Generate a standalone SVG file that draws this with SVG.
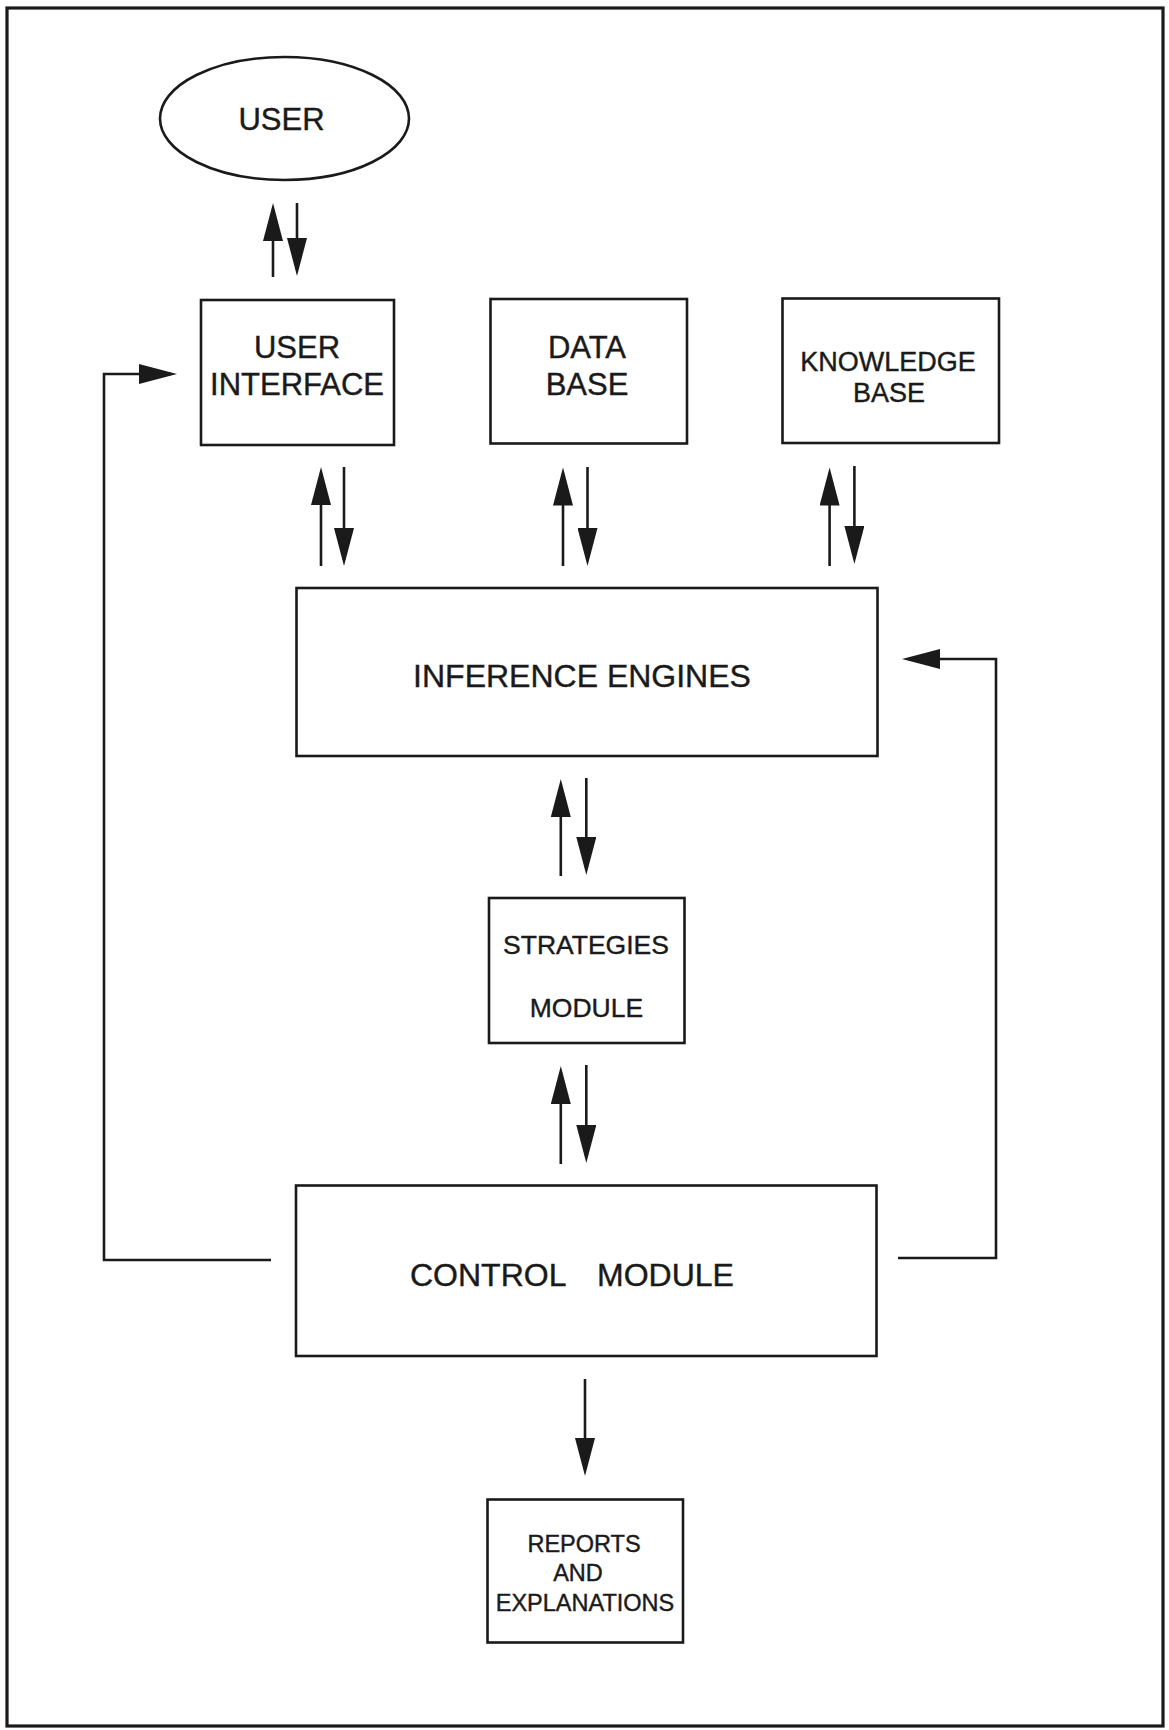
<svg xmlns="http://www.w3.org/2000/svg" width="1169" height="1730" viewBox="0 0 1169 1730">
<style>
.box{fill:none;stroke:#1a1a1a;stroke-width:2.6}
.ln{fill:none;stroke:#1a1a1a;stroke-width:2.6}
.t{font-family:"Liberation Sans",Arial,sans-serif;fill:#1a1a1a;stroke:#1a1a1a;stroke-width:0.4;text-anchor:middle}
.l{font-size:31px}
.m{font-size:27px}
.s{font-size:23.5px}
</style>
<defs>
<marker id="ah" markerUnits="userSpaceOnUse" markerWidth="40" markerHeight="20" refX="32" refY="10" orient="auto" viewBox="0 0 40 20">
<path d="M0,0 L38,10 L0,20 Z" fill="#1a1a1a"/>
</marker>
</defs>
<rect x="0" y="0" width="1169" height="1730" fill="#ffffff"/>
<rect id="frame" x="7" y="8" width="1156" height="1718" fill="none" stroke="#1a1a1a" stroke-width="3.2"/>

<g id="user">
<ellipse cx="284.5" cy="118.5" rx="124.5" ry="61.5" class="box"/>
<text class="t l" x="281.5" y="130">USER</text>
</g>
<g id="user-interface">
<rect x="201" y="300" width="193" height="145" class="box"/>
<text class="t l" x="297" y="358">USER</text>
<text class="t l" x="297" y="395">INTERFACE</text>
</g>
<g id="data-base">
<rect x="490.5" y="299" width="196.5" height="144.5" class="box"/>
<text class="t l" x="587" y="357.7">DATA</text>
<text class="t l" x="587" y="394.5">BASE</text>
</g>
<g id="knowledge-base">
<rect x="782.5" y="298.5" width="216.5" height="144.5" class="box"/>
<text class="t m" x="888" y="371">KNOWLEDGE</text>
<text class="t m" x="889" y="402">BASE</text>
</g>
<g id="inference-engines">
<rect x="296.5" y="588" width="581" height="168" class="box"/>
<text class="t" style="font-size:32px" x="582" y="686.7">INFERENCE ENGINES</text>
</g>
<g id="strategies-module">
<rect x="489" y="898" width="195.5" height="145" class="box"/>
<text class="t" style="font-size:26.5px" x="586" y="953.6">STRATEGIES</text>
<text class="t" style="font-size:26.5px" x="586.4" y="1016.7">MODULE</text>
</g>
<g id="control-module">
<rect x="296" y="1185.5" width="580.5" height="170.5" class="box"/>
<text class="t" style="font-size:32px;text-anchor:start" x="410" y="1285.8">CONTROL</text>
<text class="t" style="font-size:32px;text-anchor:start" x="597" y="1285.8">MODULE</text>
</g>
<g id="reports">
<rect x="487.5" y="1499.5" width="195.5" height="143" class="box"/>
<text class="t s" x="584" y="1551.7">REPORTS</text>
<text class="t s" x="578" y="1581">AND</text>
<text class="t s" x="585" y="1610.7">EXPLANATIONS</text>
</g>

<g id="connectors">
<line class="ln" x1="273" y1="277" x2="273" y2="209" marker-end="url(#ah)"/>
<line class="ln" x1="297" y1="203" x2="297" y2="270" marker-end="url(#ah)"/>
<line class="ln" x1="321" y1="566" x2="321" y2="473" marker-end="url(#ah)"/>
<line class="ln" x1="344" y1="467" x2="344" y2="560" marker-end="url(#ah)"/>
<line class="ln" x1="563" y1="566" x2="563" y2="473.5" marker-end="url(#ah)"/>
<line class="ln" x1="587.5" y1="467" x2="587.5" y2="560" marker-end="url(#ah)"/>
<line class="ln" x1="829.6" y1="566" x2="829.6" y2="473.5" marker-end="url(#ah)"/>
<line class="ln" x1="854.4" y1="466" x2="854.4" y2="558" marker-end="url(#ah)"/>
<line class="ln" x1="560.8" y1="876" x2="560.8" y2="785" marker-end="url(#ah)"/>
<line class="ln" x1="586.3" y1="778" x2="586.3" y2="869" marker-end="url(#ah)"/>
<line class="ln" x1="560.8" y1="1164" x2="560.8" y2="1072" marker-end="url(#ah)"/>
<line class="ln" x1="586.3" y1="1065" x2="586.3" y2="1157" marker-end="url(#ah)"/>
<line class="ln" x1="585" y1="1379" x2="585" y2="1470" marker-end="url(#ah)"/>
<polyline class="ln" points="271,1260 104,1260 104,374 171,374" marker-end="url(#ah)"/>
<polyline class="ln" points="898,1258 996,1258 996,659 908,659" marker-end="url(#ah)"/>
</g>
</svg>
